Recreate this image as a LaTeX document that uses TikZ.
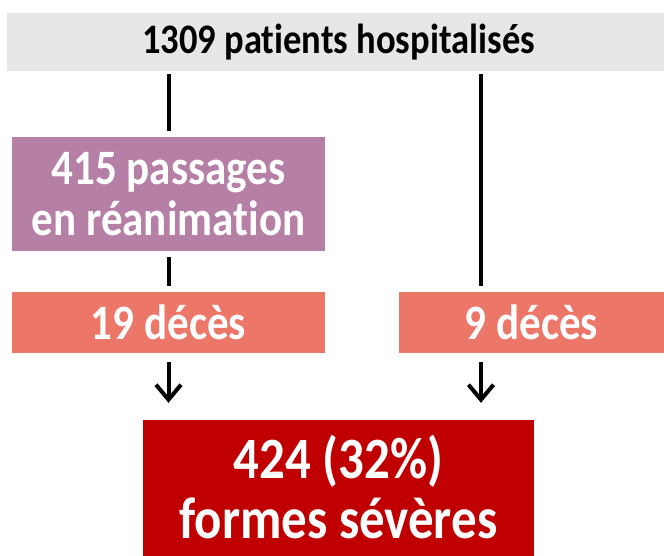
\documentclass[tikz,border=0pt]{standalone}
\usepackage{fontspec}
\setmainfont{Carlito}[FakeStretch=0.87, Ligatures=NoCommon]
\usepackage{tikz}
\usetikzlibrary{arrows.meta}
\usetikzlibrary{positioning}

\definecolor{bargray}{RGB}{231,231,231}
\definecolor{reapurple}{RGB}{181,127,166}
\definecolor{decessalmon}{RGB}{236,118,103}
\definecolor{severered}{RGB}{192,0,0}

\begin{document}
\begin{tikzpicture}[x=1pt,y=-1pt,
    box/.style={rectangle, inner sep=0pt, align=center, text=white},
    link/.style={line width=4pt, shorten <=3pt, shorten >=6pt},
    flow/.style={line width=4pt, -{Straight Barb[length=15pt,width=25pt,line width=4pt]},
        shorten <=9pt, shorten >=17pt}]
    \useasboundingbox (0,0) rectangle (664,555);
    \node[box, fill=bargray, text=black, minimum width=663pt, minimum height=58pt,
        font=\bfseries\fontsize{42}{48}\selectfont] (hosp) at (338.5,42) {1309 patients hospitalisés};
    \node[box, fill=reapurple, minimum width=313pt, minimum height=114pt,
        font=\bfseries\fontsize{49.5}{51}\selectfont] (rea) at (168.5,194) {415 passages\\en réanimation};
    \node[box, fill=decessalmon, minimum width=313pt, minimum height=61pt,
        font=\bfseries\fontsize{49.5}{51}\selectfont] (dcleft) at (168.5,322.5) {19 décès};
    \node[box, fill=decessalmon, minimum width=265pt, minimum height=61pt,
        font=\bfseries\fontsize{49.5}{51}\selectfont] (dcright) at (531.5,322.5) {9 décès};
    \node[box, fill=severered, minimum width=391pt, minimum height=134pt,
        font=\bfseries\fontsize{58.5}{60}\selectfont] (severe) at (338.5,487) {424 (32\%)\\formes sévères};
    \coordinate (rx) at (481,0);
    % liens
    \draw[link] (hosp.south -| rea.north) -- (rea.north);
    \draw[link, shorten <=6pt] (rea.south) -- (dcleft.north);
    \draw[link] (hosp.south -| rx) -- (dcright.north -| rx);
    % vers les formes severes
    \draw[flow] (dcleft.south) -- (dcleft.south |- severe.north);
    \draw[flow] (dcright.south -| rx) -- (severe.north -| rx);
    % fond rouge jusqu'au bord
    \fill[severered] (severe.south west) rectangle ([yshift=-20pt]severe.south east);
\end{tikzpicture}
\end{document}
